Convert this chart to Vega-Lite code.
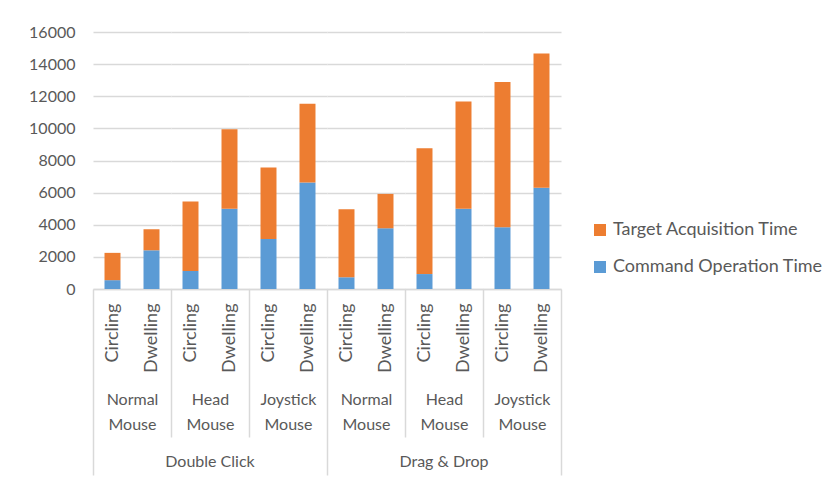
{
  "$schema": "https://vega.github.io/schema/vega-lite/v6.json",
  "padding": {"left": 28, "top": 24, "right": 5, "bottom": 0},
  "data": {"values": [
    {"task": "Double Click", "device": "Normal Mouse", "technique": "Circling", "component": "Command Operation Time", "time": 550},
    {"task": "Double Click", "device": "Normal Mouse", "technique": "Circling", "component": "Target Acquisition Time", "time": 1700},
    {"task": "Double Click", "device": "Normal Mouse", "technique": "Dwelling", "component": "Command Operation Time", "time": 2410},
    {"task": "Double Click", "device": "Normal Mouse", "technique": "Dwelling", "component": "Target Acquisition Time", "time": 1310},
    {"task": "Double Click", "device": "Head Mouse", "technique": "Circling", "component": "Command Operation Time", "time": 1120},
    {"task": "Double Click", "device": "Head Mouse", "technique": "Circling", "component": "Target Acquisition Time", "time": 4320},
    {"task": "Double Click", "device": "Head Mouse", "technique": "Dwelling", "component": "Command Operation Time", "time": 4990},
    {"task": "Double Click", "device": "Head Mouse", "technique": "Dwelling", "component": "Target Acquisition Time", "time": 4960},
    {"task": "Double Click", "device": "Joystick Mouse", "technique": "Circling", "component": "Command Operation Time", "time": 3110},
    {"task": "Double Click", "device": "Joystick Mouse", "technique": "Circling", "component": "Target Acquisition Time", "time": 4450},
    {"task": "Double Click", "device": "Joystick Mouse", "technique": "Dwelling", "component": "Command Operation Time", "time": 6630},
    {"task": "Double Click", "device": "Joystick Mouse", "technique": "Dwelling", "component": "Target Acquisition Time", "time": 4900},
    {"task": "Drag & Drop", "device": "Normal Mouse", "technique": "Circling", "component": "Command Operation Time", "time": 730},
    {"task": "Drag & Drop", "device": "Normal Mouse", "technique": "Circling", "component": "Target Acquisition Time", "time": 4240},
    {"task": "Drag & Drop", "device": "Normal Mouse", "technique": "Dwelling", "component": "Command Operation Time", "time": 3780},
    {"task": "Drag & Drop", "device": "Normal Mouse", "technique": "Dwelling", "component": "Target Acquisition Time", "time": 2140},
    {"task": "Drag & Drop", "device": "Head Mouse", "technique": "Circling", "component": "Command Operation Time", "time": 930},
    {"task": "Drag & Drop", "device": "Head Mouse", "technique": "Circling", "component": "Target Acquisition Time", "time": 7840},
    {"task": "Drag & Drop", "device": "Head Mouse", "technique": "Dwelling", "component": "Command Operation Time", "time": 4990},
    {"task": "Drag & Drop", "device": "Head Mouse", "technique": "Dwelling", "component": "Target Acquisition Time", "time": 6680},
    {"task": "Drag & Drop", "device": "Joystick Mouse", "technique": "Circling", "component": "Command Operation Time", "time": 3840},
    {"task": "Drag & Drop", "device": "Joystick Mouse", "technique": "Circling", "component": "Target Acquisition Time", "time": 9040},
    {"task": "Drag & Drop", "device": "Joystick Mouse", "technique": "Dwelling", "component": "Command Operation Time", "time": 6310},
    {"task": "Drag & Drop", "device": "Joystick Mouse", "technique": "Dwelling", "component": "Target Acquisition Time", "time": 8350}
  ]},
  "resolve": {"scale": {"color": "shared"}, "legend": {"color": "shared"}},
  "spacing": 0,
  "bounds": "flush",
  "hconcat": [
    {
      "width": 78, "height": 257,
      "transform": [{"filter": {"and": [{"field": "task", "equal": "Double Click"}, {"field": "device", "equal": "Normal Mouse"}]}}],
      "mark": {"type": "bar", "width": {"band": 0.41}},
      "encoding": {
        "x": {"field": "technique", "type": "nominal", "sort": ["Circling", "Dwelling"], "scale": {"paddingInner": 0, "paddingOuter": 0},
          "axis": {"title": ["Normal", "Mouse"], "tickBand": "extent", "tickSize": 186, "labelPadding": -172, "tickColor": {"condition": {"test": "datum.value != null", "value": "transparent"}, "value": "#d9d9d9"}}},
        "y": {"field": "time", "type": "quantitative", "stack": "zero", "scale": {"domain": [0, 16000]},
          "axis": {"title": null, "format": "d", "values": [0, 2000, 4000, 6000, 8000, 10000, 12000, 14000, 16000], "labels": true}},
        "color": {"field": "component", "type": "nominal", "scale": {"domain": ["Target Acquisition Time", "Command Operation Time"], "range": ["#ED7D31", "#5B9BD5"]}, "legend": {"title": null}},
        "order": {"field": "component", "sort": "ascending"}
      }
    },
    {
      "width": 78, "height": 257,
      "title": {"text": "Double Click", "orient": "bottom", "anchor": "middle", "frame": "group", "offset": 16},
      "transform": [{"filter": {"and": [{"field": "task", "equal": "Double Click"}, {"field": "device", "equal": "Head Mouse"}]}}],
      "mark": {"type": "bar", "width": {"band": 0.41}},
      "encoding": {
        "x": {"field": "technique", "type": "nominal", "sort": ["Circling", "Dwelling"], "scale": {"paddingInner": 0, "paddingOuter": 0},
          "axis": {"title": ["Head", "Mouse"], "tickBand": "extent", "tickSize": 148, "labelPadding": -134, "tickColor": {"condition": {"test": "datum.value != null", "value": "transparent"}, "value": "#d9d9d9"}}},
        "y": {"field": "time", "type": "quantitative", "stack": "zero", "scale": {"domain": [0, 16000]},
          "axis": {"title": null, "values": [0, 2000, 4000, 6000, 8000, 10000, 12000, 14000, 16000], "labels": false}},
        "color": {"field": "component", "type": "nominal", "scale": {"domain": ["Target Acquisition Time", "Command Operation Time"], "range": ["#ED7D31", "#5B9BD5"]}, "legend": {"title": null}},
        "order": {"field": "component", "sort": "ascending"}
      }
    },
    {
      "width": 78, "height": 257,
      "transform": [{"filter": {"and": [{"field": "task", "equal": "Double Click"}, {"field": "device", "equal": "Joystick Mouse"}]}}],
      "mark": {"type": "bar", "width": {"band": 0.41}},
      "encoding": {
        "x": {"field": "technique", "type": "nominal", "sort": ["Circling", "Dwelling"], "scale": {"paddingInner": 0, "paddingOuter": 0},
          "axis": {"title": ["Joystick", "Mouse"], "tickBand": "extent", "tickSize": 148, "labelPadding": -134, "tickColor": {"condition": {"test": "datum.value != null", "value": "transparent"}, "value": "#d9d9d9"}}},
        "y": {"field": "time", "type": "quantitative", "stack": "zero", "scale": {"domain": [0, 16000]},
          "axis": {"title": null, "values": [0, 2000, 4000, 6000, 8000, 10000, 12000, 14000, 16000], "labels": false}},
        "color": {"field": "component", "type": "nominal", "scale": {"domain": ["Target Acquisition Time", "Command Operation Time"], "range": ["#ED7D31", "#5B9BD5"]}, "legend": {"title": null}},
        "order": {"field": "component", "sort": "ascending"}
      }
    },
    {
      "width": 78, "height": 257,
      "transform": [{"filter": {"and": [{"field": "task", "equal": "Drag & Drop"}, {"field": "device", "equal": "Normal Mouse"}]}}],
      "mark": {"type": "bar", "width": {"band": 0.41}},
      "encoding": {
        "x": {"field": "technique", "type": "nominal", "sort": ["Circling", "Dwelling"], "scale": {"paddingInner": 0, "paddingOuter": 0},
          "axis": {"title": ["Normal", "Mouse"], "tickBand": "extent", "tickSize": 186, "labelPadding": -172, "tickColor": {"condition": {"test": "datum.value != null", "value": "transparent"}, "value": "#d9d9d9"}}},
        "y": {"field": "time", "type": "quantitative", "stack": "zero", "scale": {"domain": [0, 16000]},
          "axis": {"title": null, "values": [0, 2000, 4000, 6000, 8000, 10000, 12000, 14000, 16000], "labels": false}},
        "color": {"field": "component", "type": "nominal", "scale": {"domain": ["Target Acquisition Time", "Command Operation Time"], "range": ["#ED7D31", "#5B9BD5"]}, "legend": {"title": null}},
        "order": {"field": "component", "sort": "ascending"}
      }
    },
    {
      "width": 78, "height": 257,
      "title": {"text": "Drag & Drop", "orient": "bottom", "anchor": "middle", "frame": "group", "offset": 16},
      "transform": [{"filter": {"and": [{"field": "task", "equal": "Drag & Drop"}, {"field": "device", "equal": "Head Mouse"}]}}],
      "mark": {"type": "bar", "width": {"band": 0.41}},
      "encoding": {
        "x": {"field": "technique", "type": "nominal", "sort": ["Circling", "Dwelling"], "scale": {"paddingInner": 0, "paddingOuter": 0},
          "axis": {"title": ["Head", "Mouse"], "tickBand": "extent", "tickSize": 148, "labelPadding": -134, "tickColor": {"condition": {"test": "datum.value != null", "value": "transparent"}, "value": "#d9d9d9"}}},
        "y": {"field": "time", "type": "quantitative", "stack": "zero", "scale": {"domain": [0, 16000]},
          "axis": {"title": null, "values": [0, 2000, 4000, 6000, 8000, 10000, 12000, 14000, 16000], "labels": false}},
        "color": {"field": "component", "type": "nominal", "scale": {"domain": ["Target Acquisition Time", "Command Operation Time"], "range": ["#ED7D31", "#5B9BD5"]}, "legend": {"title": null}},
        "order": {"field": "component", "sort": "ascending"}
      }
    },
    {
      "width": 78, "height": 257,
      "transform": [{"filter": {"and": [{"field": "task", "equal": "Drag & Drop"}, {"field": "device", "equal": "Joystick Mouse"}]}}],
      "mark": {"type": "bar", "width": {"band": 0.41}},
      "encoding": {
        "x": {"field": "technique", "type": "nominal", "sort": ["Circling", "Dwelling"], "scale": {"paddingInner": 0, "paddingOuter": 0},
          "axis": {"title": ["Joystick", "Mouse"], "tickBand": "extent",
            "labelPadding": {"condition": {"test": "datum.value === 'Dwelling'", "value": -172}, "value": -134},
            "tickSize": {"condition": {"test": "datum.value === 'Dwelling'", "value": 186}, "value": 148},
            "tickColor": {"condition": {"test": "datum.value === 'Circling'", "value": "transparent"}, "value": "#d9d9d9"}}},
        "y": {"field": "time", "type": "quantitative", "stack": "zero", "scale": {"domain": [0, 16000]},
          "axis": {"title": null, "values": [0, 2000, 4000, 6000, 8000, 10000, 12000, 14000, 16000], "labels": false}},
        "color": {"field": "component", "type": "nominal", "scale": {"domain": ["Target Acquisition Time", "Command Operation Time"], "range": ["#ED7D31", "#5B9BD5"]}, "legend": {"title": null}},
        "order": {"field": "component", "sort": "ascending"}
      }
    }
  ],
  "config": {
    "font": "Lato",
    "view": {"stroke": null},
    "axisX": {
      "labelAngle": -90, "labelFontSize": 18, "labelColor": "#595959",
      "domainColor": "#d9d9d9", "domainWidth": 1.5, "tickWidth": 1.5, "grid": false,
      "titleY": 102, "titleBaseline": "top", "titleLineHeight": 25, "titleFontSize": 16,
      "titleFontWeight": "normal", "titleColor": "#595959"
    },
    "axisY": {
      "grid": true, "gridColor": "#d9d9d9", "gridWidth": 1.5, "domain": false, "ticks": false,
      "labelPadding": 18, "labelFontSize": 16, "labelColor": "#595959"
    },
    "title": {"fontSize": 16, "fontWeight": "normal", "color": "#595959", "font": "Lato"},
    "legend": {
      "orient": "none", "legendX": 498, "legendY": 189,
      "symbolType": "square", "symbolSize": 144, "symbolStrokeWidth": 0, "labelLimit": 300,
      "labelFontSize": 18, "labelColor": "#595959", "rowPadding": 19, "labelOffset": 4
    }
  }
}
